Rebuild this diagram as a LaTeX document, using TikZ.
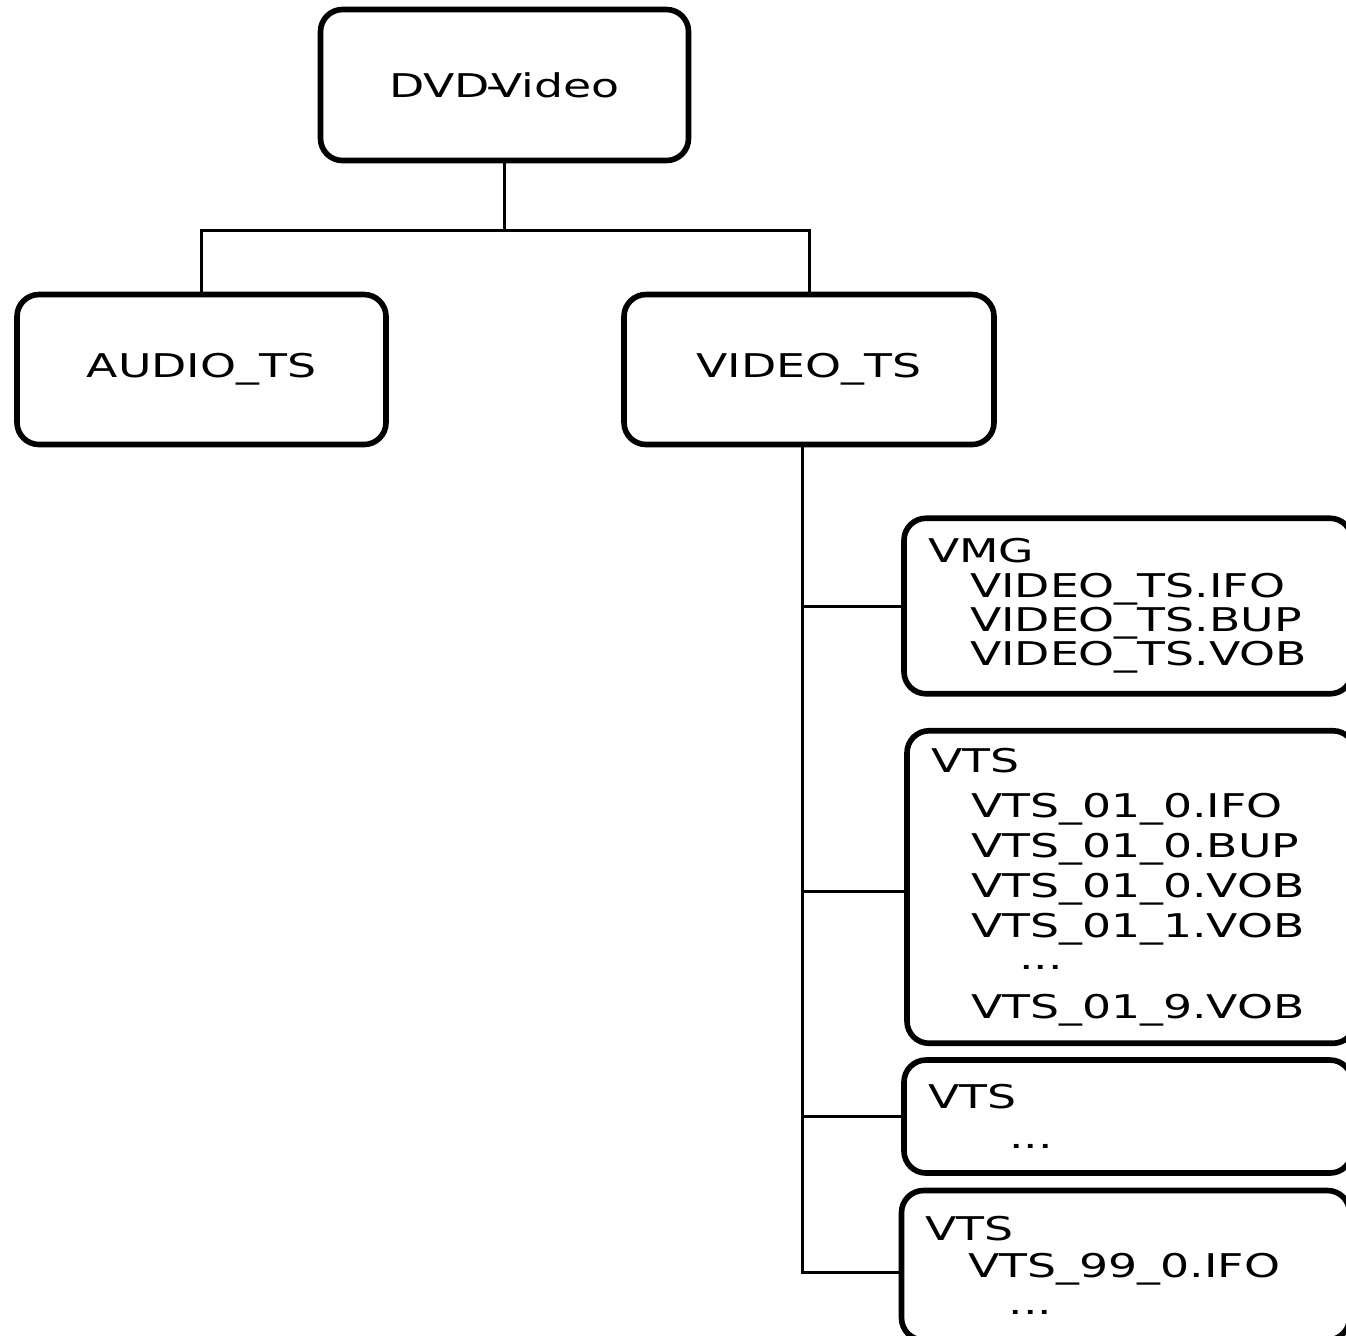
\documentclass[tikz,border=0pt]{standalone}
\usepackage{fontspec}
\newfontfamily\dirfont[FakeStretch=1.40]{DejaVu Sans}
\tikzset{
  box/.style={draw, line width=1.6pt, rounded corners=0.22cm, inner sep=0pt,
    font=\dirfont\fontsize{9.3pt}{9.8pt}\selectfont},
  folder/.style={box, minimum width=3.69cm, minimum height=1.50cm},
  listing/.style={box, align=left, text width=4.0cm, inner xsep=0.24cm},
  wire/.style={draw, line width=0.85pt},
}

\begin{document}
\begin{tikzpicture}
  \useasboundingbox (0,0) rectangle (13.46,-13.35);
  \clip (0,0) rectangle (13.46,-13.35);

  % disc and its two folders
  \node[folder, minimum width=3.68cm, minimum height=1.51cm] (dvd) at (5.045,-0.85)
    {DVD\kern-0.04cm-\kern-0.11cm Video};
  \node[folder] (audio) at (2.015,-3.695) {AUDIO\_TS};
  \node[folder, minimum width=3.70cm] (video) at (8.09,-3.695) {VIDEO\_TS};

  % file groups inside VIDEO_TS
  \node[listing, minimum height=1.755cm] (vmg) at (11.28,-6.06)
    {VMG\\
     \hspace*{0.42cm}VIDEO\_TS.IFO\\
     \hspace*{0.42cm}VIDEO\_TS.BUP\\
     \hspace*{0.42cm}VIDEO\_TS.VOB};
  \node[listing, minimum height=3.125cm, font=\dirfont\fontsize{9.3pt}{11.4pt}\selectfont]
    (vts) at (11.31,-8.87)
    {VTS\\[0.05cm]
     \hspace*{0.40cm}VTS\_01\_0.IFO\\
     \hspace*{0.40cm}VTS\_01\_0.BUP\\
     \hspace*{0.40cm}VTS\_01\_0.VOB\\
     \hspace*{0.40cm}VTS\_01\_1.VOB\\[-0.08cm]
     \hspace*{0.88cm}...\\[0.08cm]
     \hspace*{0.40cm}VTS\_01\_9.VOB};
  \node[listing, minimum height=1.13cm, font=\dirfont\fontsize{9.3pt}{11.2pt}\selectfont]
    (vtsmore) at (11.28,-11.165)
    {VTS\\
     \hspace*{0.81cm}...};
  \node[listing, minimum height=1.495cm, font=\dirfont\fontsize{9.3pt}{10.6pt}\selectfont]
    (vtslast) at (11.255,-12.6525)
    {VTS\\
     \hspace*{0.43cm}VTS\_99\_0.IFO\\
     \hspace*{0.83cm}...};

  % tree lines
  \coordinate (bus) at (0,-2.30);
  \coordinate (trunk) at ([xshift=-0.07cm]video.south);
  \draw[wire] (dvd.south) -- (dvd.south |- bus);
  \draw[wire] (audio.north) |- (bus -| video.north) -- (video.north);
  \draw[wire] (trunk) |- ([yshift=-0.07cm]vtslast.west);
  \foreach \grp/\dy in {vmg/0,vts/-0.04,vtsmore/0}
    \draw[wire] ([yshift=\dy cm]trunk |- \grp.west) -- ([yshift=\dy cm]\grp.west);
\end{tikzpicture}
\end{document}
